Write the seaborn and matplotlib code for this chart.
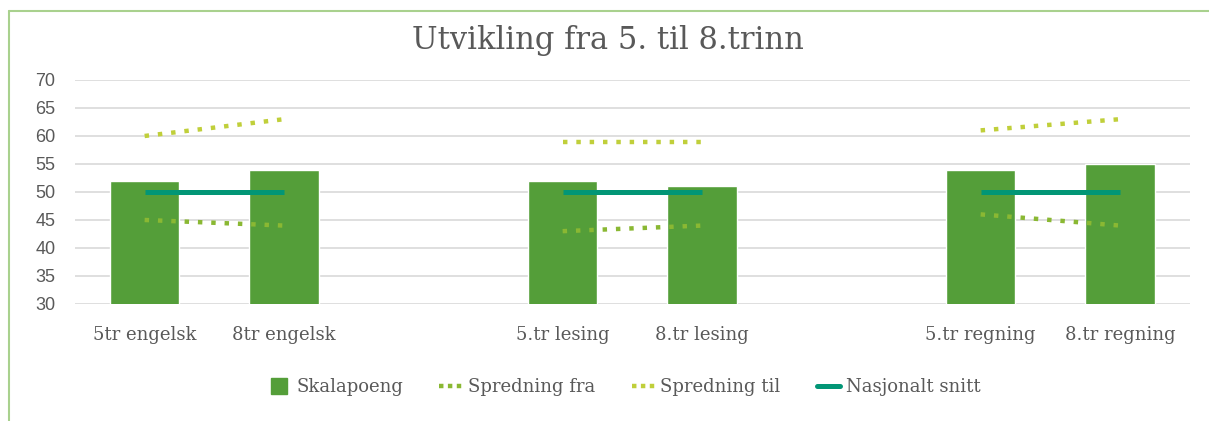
"""Utvikling fra 5. til 8.trinn - combo chart (bars + dotted spread lines)."""

import matplotlib

matplotlib.use("Agg")

import matplotlib.pyplot as plt
from matplotlib.lines import Line2D
import pandas as pd
import seaborn as sns

categories = ["5tr engelsk", "8tr engelsk", "5.tr lesing", "8.tr lesing", "5.tr regning", "8.tr regning"]
subjects = ["engelsk", "engelsk", "lesing", "lesing", "regning", "regning"]
skalapoeng = [52, 54, 52, 51, 54, 55]
spredning_fra = [45, 44, 43, 44, 46, 44]
spredning_til = [60, 63, 59, 59, 61, 63]
nasjonalt_snitt = [50, 50, 50, 50, 50, 50]
y_ticks = [30, 35, 40, 45, 50, 55, 60, 65, 70]

GREEN = "#549E39"
LIME = "#8AB833"
YELLOW_GREEN = "#C0CF3A"
TEAL = "#029676"
TEXT = "#595959"
SERIF = ["DejaVu Serif"]
DOTS = (0, (1, 2))
LEGEND_DOTS = (0, (1, 1))

# each subject takes two slots, then one empty slot before the next subject
subject_order = list(dict.fromkeys(subjects))
pos = []
for i, subj in enumerate(subjects):
    pos.append(subject_order.index(subj) * 3 + subjects[:i].count(subj))

df = pd.DataFrame(
    {
        "pos": pos,
        "kategori": categories,
        "fag": subjects,
        "skalapoeng": skalapoeng,
        "fra": spredning_fra,
        "til": spredning_til,
        "snitt": nasjonalt_snitt,
    }
)

sns.set_style("white")

fig = plt.figure(figsize=(12.09, 4.21), dpi=100)
ax = fig.add_axes([0.062, 0.278, 0.922, 0.532])

sns.barplot(
    data=df, x="pos", y="skalapoeng", native_scale=True, width=0.5,
    color=GREEN, saturation=1, errorbar=None, ax=ax, zorder=2,
)
sns.lineplot(
    data=df, x="pos", y="fra", units="fag", estimator=None, color=LIME,
    linewidth=3.2, linestyle=DOTS, dash_capstyle="butt", ax=ax, zorder=3,
)
sns.lineplot(
    data=df, x="pos", y="til", units="fag", estimator=None, color=YELLOW_GREEN,
    linewidth=3.2, linestyle=DOTS, dash_capstyle="butt", ax=ax, zorder=3,
)
sns.lineplot(
    data=df, x="pos", y="snitt", units="fag", estimator=None, color=TEAL,
    linewidth=3.6, solid_capstyle="butt", ax=ax, zorder=4,
)

ax.set_xlim(-0.5, 7.5)
ax.set_ylim(30, 70)
ax.set_yticks(y_ticks)
ax.set_xticks(df["pos"])
ax.set_xticklabels(categories, fontsize=13, color=TEXT, family=SERIF)
ax.tick_params(axis="y", labelsize=13, labelcolor=TEXT, length=0, pad=14)
ax.tick_params(axis="x", length=0, pad=16)
for lab in ax.get_yticklabels():
    lab.set_family(["Liberation Sans"])
ax.set_xlabel("")
ax.set_ylabel("")
ax.yaxis.grid(True, color="#D9D9D9", linewidth=1.2, zorder=0)
ax.set_axisbelow(True)
sns.despine(ax=ax, left=True, bottom=True)

fig.suptitle("Utvikling fra 5. til 8.trinn", x=0.503, y=0.94, fontsize=22,
             color=TEXT, family=SERIF)

handles = [
    Line2D([], [], color=GREEN, marker="s", markersize=12, linestyle="none"),
    Line2D([], [], color=LIME, linewidth=3.2, linestyle=LEGEND_DOTS, dash_capstyle="butt"),
    Line2D([], [], color=YELLOW_GREEN, linewidth=3.2, linestyle=LEGEND_DOTS, dash_capstyle="butt"),
    Line2D([], [], color=TEAL, linewidth=3.6),
]
labels = ["Skalapoeng", "Spredning fra", "Spredning til", "Nasjonalt snitt"]
fig.legend(
    handles, labels, loc="center", bbox_to_anchor=(0.516, 0.08), ncol=4,
    frameon=False, prop={"family": SERIF, "size": 13}, labelcolor=TEXT,
    handlelength=1.3, handletextpad=0.3, columnspacing=2.0,
)

# chart frame (only left and top edges are visible in the crop)
frame_kw = dict(color="#A9D18E", linewidth=1.5, transform=fig.transFigure)
fig.add_artist(Line2D([9 / 1209, 9 / 1209], [0, 1 - 11 / 421], **frame_kw))
fig.add_artist(Line2D([9 / 1209, 1], [1 - 11 / 421, 1 - 11 / 421], **frame_kw))

fig.savefig("out.png", dpi=100)
